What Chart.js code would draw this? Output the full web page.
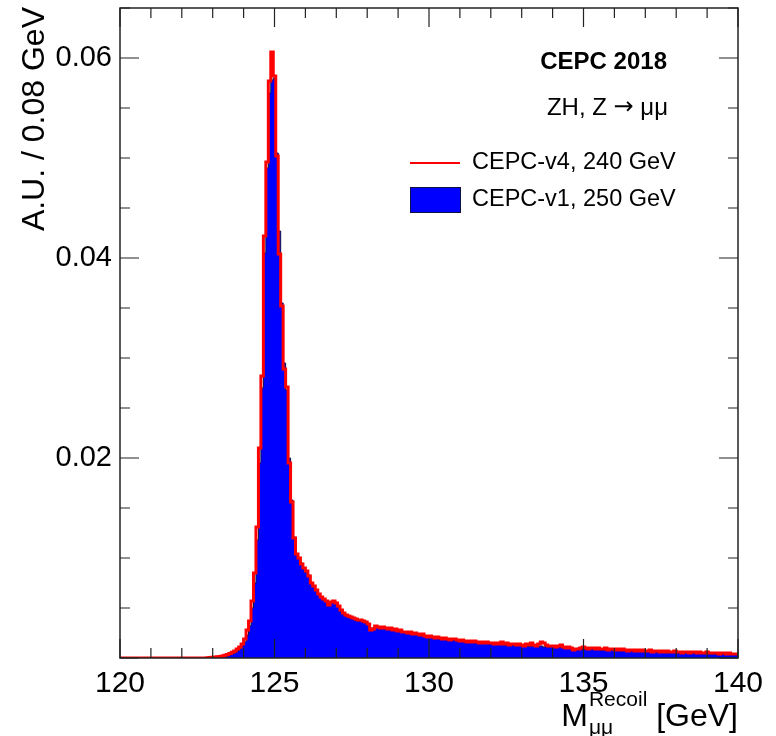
<!DOCTYPE html>
<html>
<head>
<meta charset="utf-8">
<script src="https://cdn.jsdelivr.net/npm/chart.js@4.4.0/dist/chart.umd.min.js"></script>
<style>
  html, body { margin: 0; padding: 0; background: #fff; }
</style>
</head>
<body>
<canvas id="chart" width="776" height="736"></canvas>
<script>
// binning: 250 bins of 0.08 GeV from 120 to 140
const xMin = 120, xMax = 140, binWidth = 0.08;
const xTickLabels = [120, 125, 130, 135, 140];
const yTickLabels = [0.02, 0.04, 0.06];
const seriesNames = ['CEPC-v4, 240 GeV', 'CEPC-v1, 250 GeV'];

// CEPC-v4, 240 GeV (red line)
const v4Values = [
  0, 0, 0, 0, 0, 0, 0, 0, 0, 0,
  0, 0, 0, 0, 0, 0, 0, 0, 0, 0,
  0, 0, 0, 0, 0, 0, 0, 0, 0, 0,
  0, 0, 0, 0, 0, 0, 0.00003, 0.00005, 0.00008, 0.0001,
  0.00013, 0.00016, 0.0002, 0.00028, 0.00035, 0.00045, 0.00058, 0.0007, 0.0009, 0.0011,
  0.0014, 0.0019, 0.0028, 0.0037, 0.0057, 0.0085, 0.0131, 0.0210, 0.0282, 0.0422,
  0.0496, 0.0577, 0.0606, 0.0582, 0.0502, 0.0404, 0.0352, 0.0289, 0.0271, 0.0195,
  0.0156, 0.0120, 0.0104, 0.0100, 0.0094, 0.0090, 0.0087, 0.0082, 0.0075, 0.0072,
  0.0068, 0.0064, 0.0061, 0.0059, 0.0057, 0.0053, 0.0056, 0.0057, 0.0055, 0.0052,
  0.0048, 0.0045, 0.0043, 0.0042, 0.0041, 0.0040, 0.0039, 0.0038, 0.0038, 0.0037,
  0.0036, 0.0034, 0.0028, 0.0029, 0.0032, 0.0031, 0.0030, 0.0031, 0.0030, 0.0029,
  0.0030, 0.0028, 0.0029, 0.0027, 0.0028, 0.0026, 0.0026, 0.0025, 0.0026, 0.0024,
  0.0025, 0.0024, 0.0023, 0.0024, 0.0022, 0.0021, 0.0022, 0.0021, 0.0020, 0.0021,
  0.0020, 0.0019, 0.0020, 0.0019, 0.0018, 0.0019, 0.0019, 0.0018, 0.0017, 0.0018,
  0.0017, 0.0016, 0.0017, 0.0016, 0.0017, 0.0016, 0.0015, 0.0016, 0.0015, 0.0016,
  0.0015, 0.0015, 0.0014, 0.0015, 0.0014, 0.0016, 0.0014, 0.0015, 0.0013, 0.0014,
  0.0014, 0.0013, 0.0014, 0.0013, 0.0012, 0.0014, 0.0013, 0.0015, 0.0013, 0.0012,
  0.0014, 0.0016, 0.0015, 0.0013, 0.0012, 0.0012, 0.0012, 0.0011, 0.0012, 0.0013,
  0.0011, 0.0010, 0.0011, 0.0010, 0.0008, 0.0009, 0.0009, 0.0010, 0.0011, 0.0010,
  0.0009, 0.0010, 0.0010, 0.0009, 0.0010, 0.0009, 0.0009, 0.0010, 0.0008, 0.0009,
  0.0009, 0.0008, 0.0009, 0.0008, 0.0009, 0.0008, 0.0007, 0.0008, 0.0008, 0.0007,
  0.0008, 0.0007, 0.0008, 0.0007, 0.0007, 0.0008, 0.0006, 0.0007, 0.0007, 0.0006,
  0.0007, 0.0006, 0.0007, 0.0006, 0.0006, 0.0007, 0.0006, 0.0006, 0.0005, 0.0006,
  0.0006, 0.0005, 0.0006, 0.0006, 0.0005, 0.0006, 0.0005, 0.0005, 0.0006, 0.0005,
  0.0005, 0.0005, 0.0005, 0.0004, 0.0005, 0.0005, 0.0004, 0.0005, 0.0004, 0.0004
];

// CEPC-v1, 250 GeV (blue fill)
const v1Values = [
  0, 0, 0, 0, 0, 0, 0, 0, 0, 0,
  0, 0, 0, 0, 0, 0, 0, 0, 0, 0,
  0, 0, 0, 0, 0, 0, 0, 0, 0, 0,
  0, 0, 0, 0, 0, 0, 0, 0, 0, 0,
  0, 0.00005, 0.0001, 0.00015, 0.0002, 0.0003, 0.0004, 0.0005, 0.0007, 0.0009,
  0.0012, 0.0016, 0.0023, 0.0032, 0.0050, 0.0075, 0.0118, 0.0195, 0.0270, 0.0405,
  0.0490, 0.0565, 0.0578, 0.0580, 0.0505, 0.0427, 0.0355, 0.0295, 0.0268, 0.0200,
  0.0158, 0.0121, 0.0103, 0.0099, 0.0095, 0.0089, 0.0086, 0.0083, 0.0074, 0.0071,
  0.0067, 0.0063, 0.0061, 0.0058, 0.0056, 0.0054, 0.0055, 0.0056, 0.0054, 0.0051,
  0.0047, 0.0045, 0.0042, 0.0041, 0.0040, 0.0040, 0.0038, 0.0037, 0.0038, 0.0036,
  0.0035, 0.0033, 0.0030, 0.0030, 0.0031, 0.0030, 0.0030, 0.0030, 0.0029, 0.0029,
  0.0029, 0.0028, 0.0028, 0.0027, 0.0027, 0.0026, 0.0025, 0.0025, 0.0025, 0.0024,
  0.0024, 0.0023, 0.0023, 0.0023, 0.0022, 0.0021, 0.0021, 0.0021, 0.0020, 0.0020,
  0.0019, 0.0019, 0.0019, 0.0018, 0.0018, 0.0018, 0.0018, 0.0017, 0.0017, 0.0017,
  0.0016, 0.0016, 0.0016, 0.0016, 0.0016, 0.0015, 0.0015, 0.0015, 0.0015, 0.0015,
  0.0014, 0.0014, 0.0014, 0.0014, 0.0014, 0.0014, 0.0013, 0.0014, 0.0013, 0.0013,
  0.0013, 0.0013, 0.0013, 0.0013, 0.0012, 0.0012, 0.0012, 0.0012, 0.0012, 0.0012,
  0.0012, 0.0012, 0.0011, 0.0012, 0.0011, 0.0011, 0.0011, 0.0011, 0.0011, 0.0011,
  0.0010, 0.0010, 0.0010, 0.0010, 0.0009, 0.0009, 0.0010, 0.0009, 0.0009, 0.0009,
  0.0009, 0.0009, 0.0009, 0.0009, 0.0009, 0.0008, 0.0008, 0.0008, 0.0008, 0.0008,
  0.0008, 0.0008, 0.0008, 0.0007, 0.0008, 0.0007, 0.0007, 0.0007, 0.0007, 0.0007,
  0.0007, 0.0007, 0.0007, 0.0006, 0.0007, 0.0006, 0.0006, 0.0006, 0.0006, 0.0006,
  0.0006, 0.0006, 0.0006, 0.0006, 0.0006, 0.0005, 0.0006, 0.0005, 0.0005, 0.0005,
  0.0005, 0.0005, 0.0005, 0.0005, 0.0005, 0.0005, 0.0005, 0.0004, 0.0005, 0.0004,
  0.0004, 0.0004, 0.0004, 0.0004, 0.0004, 0.0004, 0.0004, 0.0004, 0.0004, 0.0004
];

const FONT = '"Liberation Sans", Arial, Helvetica, sans-serif';

// histogram -> step points at bin low edges, plus closing point at xMax
function toSteps(values) {
  const pts = values.map((v, i) => ({ x: xMin + i * binWidth, y: v }));
  pts.push({ x: xMax, y: values[values.length - 1] });
  return pts;
}

// ROOT-like frame, inward ticks on all sides, titles and legend
const rootStyle = {
  id: 'rootStyle',
  afterDraw(chart) {
    const { ctx, chartArea: a, scales: { x, y } } = chart;
    ctx.save();
    ctx.strokeStyle = '#222';
    ctx.lineWidth = 1.5;
    ctx.strokeRect(a.left, a.top, a.right - a.left, a.bottom - a.top);

    // x ticks every 1 GeV, long every 5
    ctx.lineWidth = 1.2;
    for (let k = 0; k <= 20; k++) {
      const px = x.getPixelForValue(xMin + k);
      const len = k % 5 === 0 ? 19 : 10;
      ctx.beginPath();
      ctx.moveTo(px, a.bottom); ctx.lineTo(px, a.bottom - len);
      ctx.moveTo(px, a.top); ctx.lineTo(px, a.top + len);
      ctx.stroke();
    }
    // y ticks every 0.005, long every 0.02
    for (let k = 0; k <= 13; k++) {
      const py = y.getPixelForValue(k * 0.005);
      const len = k % 4 === 0 ? 19 : 10;
      ctx.beginPath();
      ctx.moveTo(a.left, py); ctx.lineTo(a.left + len, py);
      ctx.moveTo(a.right, py); ctx.lineTo(a.right - len, py);
      ctx.stroke();
    }

    ctx.fillStyle = '#000';
    // y title
    ctx.save();
    ctx.translate(35, 7);
    ctx.rotate(-Math.PI / 2);
    ctx.font = '32px ' + FONT;
    ctx.textAlign = 'right';
    ctx.textBaseline = 'middle';
    ctx.fillText('A.U. / 0.08 GeV', 0, 0);
    ctx.restore();

    // x title: M_{μμ}^{Recoil} [GeV], right aligned to frame
    ctx.textBaseline = 'alphabetic';
    ctx.textAlign = 'left';
    const bigFont = '32px ' + FONT, smallFont = '21px ' + FONT;
    ctx.font = bigFont;
    const gevW = ctx.measureText(' [GeV]').width;
    const mW = ctx.measureText('M').width;
    ctx.font = smallFont;
    const supW = ctx.measureText('Recoil').width;
    const baseY = 726;
    const gevX = a.right - gevW;
    const scriptX = gevX - supW;
    const mX = scriptX - mW - 1;
    ctx.font = bigFont;
    ctx.fillText('M', mX, baseY);
    ctx.fillText(' [GeV]', gevX, baseY);
    ctx.font = smallFont;
    ctx.fillText('Recoil', scriptX, baseY - 20);
    ctx.fillText('\u03bc\u03bc', scriptX, baseY + 8);

    // labels
    ctx.textAlign = 'right';
    ctx.textBaseline = 'middle';
    ctx.font = 'bold 24px ' + FONT;
    ctx.fillText('CEPC 2018', 667, 62);
    ctx.font = '24px ' + FONT;
    const muW = ctx.measureText(' \u03bc\u03bc').width;
    ctx.fillText(' \u03bc\u03bc', 668, 108);
    ctx.font = '24px "DejaVu Sans", ' + FONT;
    const arW = ctx.measureText('\u2192').width;
    ctx.fillText('\u2192', 668 - muW, 108);
    ctx.font = '24px ' + FONT;
    ctx.fillText('ZH, Z ', 668 - muW - arW, 108);

    // legend
    const ds = chart.data.datasets;
    ctx.textAlign = 'left';
    ctx.font = '23.5px ' + FONT;
    ctx.strokeStyle = ds[0].borderColor;
    ctx.lineWidth = 2;
    ctx.beginPath();
    ctx.moveTo(410, 163); ctx.lineTo(460, 163);
    ctx.stroke();
    ctx.fillText(ds[0].label, 472, 163);
    ctx.fillStyle = ds[1].backgroundColor;
    ctx.fillRect(410, 187, 51, 26);
    ctx.strokeStyle = ds[1].borderColor;
    ctx.lineWidth = 1;
    ctx.strokeRect(410.5, 187.5, 50, 25);
    ctx.fillStyle = '#000';
    ctx.fillText(ds[1].label, 472, 200);
    ctx.restore();
  }
};

new Chart(document.getElementById('chart').getContext('2d'), {
  type: 'line',
  data: {
    datasets: [
      {
        label: seriesNames[0],
        data: toSteps(v4Values),
        stepped: 'after',
        borderColor: '#ff0000',
        borderWidth: 3,
        pointRadius: 0,
        fill: false
      },
      {
        label: seriesNames[1],
        data: toSteps(v1Values),
        stepped: 'after',
        borderColor: '#10104a',
        borderWidth: 1,
        backgroundColor: '#0000ff',
        pointRadius: 0,
        fill: 'origin'
      }
    ]
  },
  options: {
    responsive: false,
    animation: false,
    layout: { padding: { top: 8, right: 38, left: 0, bottom: 0 } },
    plugins: { legend: { display: false }, tooltip: { enabled: false } },
    scales: {
      x: {
        type: 'linear',
        min: xMin,
        max: xMax,
        grid: { display: false, drawTicks: false },
        border: { display: false },
        afterFit(scale) { scale.height = 78; scale.paddingLeft = 0; scale.paddingRight = 0; },
        afterBuildTicks(scale) { scale.ticks = xTickLabels.map(v => ({ value: v })); },
        ticks: {
          padding: 8,
          color: '#000',
          font: { family: FONT, size: 30 },
          maxRotation: 0,
          callback: v => String(v)
        }
      },
      y: {
        min: 0,
        max: 0.065,
        grid: { display: false, drawTicks: false },
        border: { display: false },
        afterFit(scale) { scale.width = 120; scale.paddingTop = 0; scale.paddingBottom = 0; },
        afterBuildTicks(scale) { scale.ticks = yTickLabels.map(v => ({ value: v })); },
        ticks: {
          padding: 8,
          color: '#000',
          font: { family: FONT, size: 29 },
          callback: v => v.toFixed(2)
        }
      }
    }
  },
  plugins: [rootStyle]
});
</script>
</body>
</html>
